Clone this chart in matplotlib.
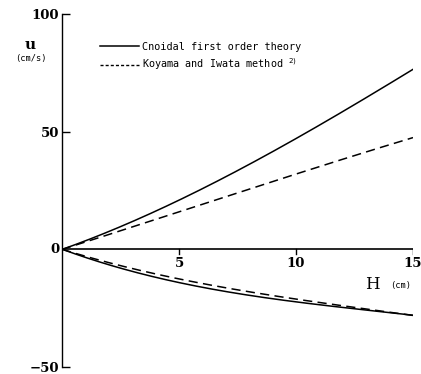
import numpy as np
import matplotlib
matplotlib.use("Agg")
import matplotlib.pyplot as plt
from matplotlib.lines import Line2D

# Data
H = [0, 2.5, 5, 7.5, 10, 12.5, 15]
cnoidal_pos = [0, 9.5, 21, 33.5, 47, 61.5, 76.5]
koyama_pos = [0, 7.8, 16, 24, 32, 39.8, 47.5]
cnoidal_neg = [0, -7.8, -14.3, -18.8, -22.2, -25.3, -28]
koyama_neg = [0, -6.8, -12.8, -17.2, -20.8, -25.0, -28]

x_ticks = [5, 10, 15]
y_ticks = [100, 50, 0, -50]
legend_labels = ["Cnoidal first order theory", "Koyama and Iwata method $^{2)}$"]

fig = plt.figure(figsize=(4.21, 3.74), dpi=100)
ax = fig.add_axes([62/421, 1-367/374, 351/421, 353/374])
ax.set_xlim(0, 15)
ax.set_ylim(-50, 100)

for s in ["top", "right", "bottom"]:
    ax.spines[s].set_visible(False)
ax.spines["left"].set_linewidth(1.0)

# x axis line at u = 0
ax.axhline(0, color="black", lw=1.2, xmin=0, xmax=1)

def smooth(x, y):
    xs = np.linspace(min(x), max(x), 200)
    c = np.polyfit(x, y, 3)
    return xs, np.polyval(c, xs)

dash = (0, (6, 3.5))
xs, ys = smooth(H, cnoidal_pos); ax.plot(xs, ys, color="black", lw=1.1)
xs, ys = smooth(H, koyama_pos); ax.plot(xs, ys, color="black", lw=1.1, linestyle=dash)
xs, ys = smooth(H, cnoidal_neg); ax.plot(xs, ys, color="black", lw=1.1)
xs, ys = smooth(H, koyama_neg); ax.plot(xs, ys, color="black", lw=1.1, linestyle=dash)

# y ticks (inward), labels
ax.set_yticks([t for t in y_ticks if t != 0])
ax.set_yticklabels([str(t).replace("-", "\u2212") for t in y_ticks if t != 0],
                   fontfamily="DejaVu Serif", fontweight="bold", fontsize=9.5)
ax.tick_params(axis="y", direction="in", length=6, width=1, pad=2)
ax.text(-0.12, 0, "0", ha="right", va="center", fontfamily="DejaVu Serif",
        fontweight="bold", fontsize=9.5)

# x ticks drawn on the zero line
ax.set_xticks([])
for t in x_ticks:
    ax.plot([t, t], [0, -2.0], color="black", lw=1.0)
    ax.text(t, -3.3, str(t), ha="center", va="top", fontfamily="DejaVu Serif",
            fontweight="bold", fontsize=9.5)

# axis labels
ax.text(-1.35, 86.8, "u", ha="center", va="center", fontfamily="DejaVu Serif",
        fontweight="bold", fontsize=11)
ax.text(-1.35, 81.0, "(cm/s)", ha="center", va="center", fontfamily="DejaVu Sans Mono",
        fontsize=6.3)
ax.text(13.25, -15.0, "H", ha="center", va="center", fontfamily="DejaVu Serif",
        fontsize=12)
ax.text(14.45, -15.3, "(cm)", ha="center", va="center", fontfamily="DejaVu Sans Mono",
        fontsize=6.3)

handles = [Line2D([], [], color="black", lw=1.1),
           Line2D([], [], color="black", lw=1.0, linestyle=(0, (2.2, 1.5)))]
leg = ax.legend(handles, legend_labels, loc="upper left",
                bbox_to_anchor=(38/351, (367-42)/353), frameon=False,
                prop={"family": "DejaVu Sans Mono", "size": 7.3},
                handlelength=3.8, handletextpad=0.3, labelspacing=0.45,
                borderaxespad=0, borderpad=0)

fig.savefig("out.png", dpi=100, facecolor="white")
